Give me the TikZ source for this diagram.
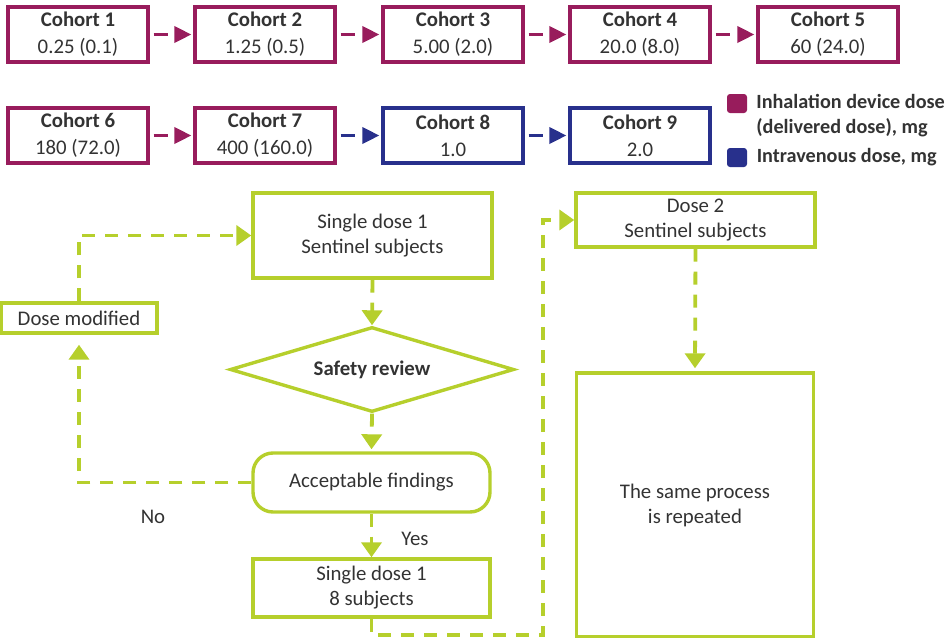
\documentclass[tikz,border=0pt]{standalone}
\usepackage{fontspec}
\setmainfont{Carlito}
\usepackage{xcolor}
\usepackage{tikz}
\usetikzlibrary{shapes.geometric,arrows.meta,positioning}

\definecolor{inhal}{RGB}{152,28,92}
\definecolor{ivblue}{RGB}{40,48,140}
\definecolor{flowgreen}{RGB}{182,207,44}
\definecolor{txtgray}{RGB}{51,51,51}

\begin{document}
\begin{tikzpicture}[x=0.5pt, y=-0.5pt,
    cohortbox/.style={rectangle, draw=inhal, line width=1.6pt, fill=white, minimum width=70pt, minimum height=27.5pt, align=center, text=txtgray, inner sep=0pt, font=\fontsize{10.4}{13.5}\selectfont},
    ivbox/.style={cohortbox, draw=ivblue},
    carrow/.style={-{Triangle[length=8.5pt, width=8pt]}, line width=1.8pt, dash pattern=on 7pt off 5pt, shorten <=2pt, shorten >=1pt},
    flowbox/.style={rectangle, draw=flowgreen, line width=1.7pt, fill=white, align=center, text=txtgray, inner sep=0pt, font=\fontsize{10.4}{12.5}\selectfont},
    reviewdia/.style={diamond, draw=flowgreen, line width=1.7pt, fill=white, aspect=3.3, minimum width=142pt, minimum height=42.5pt, inner sep=0pt, text=txtgray, font=\fontsize{10.4}{12.5}\selectfont\bfseries},
    farrow/.style={-{Triangle[length=7.5pt, width=10pt]}, flowgreen, line width=1.9pt, dash pattern=on 6.5pt off 5pt},
    legendsq/.style={rectangle, rounded corners=1.5pt, minimum width=10pt, minimum height=9.5pt, inner sep=0pt},
    lbl/.style={text=txtgray, inner sep=0pt, font=\fontsize{10.4}{12.5}\selectfont}
  ]
    \useasboundingbox (0,0) rectangle (950,638);

    \node[cohortbox] (c1) at (78,34.5) {\textbf{Cohort 1}\\0.25 (0.1)};
    \node[cohortbox] (c2) at (265,34.5) {\textbf{Cohort 2}\\1.25 (0.5)};
    \node[cohortbox] (c3) at (453,34.5) {\textbf{Cohort 3}\\5.00 (2.0)};
    \node[cohortbox] (c4) at (640,34.5) {\textbf{Cohort 4}\\20.0 (8.0)};
    \node[cohortbox] (c5) at (828,34.5) {\textbf{Cohort 5}\\60 (24.0)};

    \node[cohortbox] (c6) at (78,135.5) {\textbf{Cohort 6}\\180 (72.0)};
    \node[cohortbox] (c7) at (265,135.5) {\textbf{Cohort 7}\\400 (160.0)};
    \node[ivbox] (c8) at (453,135.5) {\textbf{Cohort 8}\\1.0};
    \node[ivbox] (c9) at (640,135.5) {\textbf{Cohort 9}\\2.0};

    \draw[carrow, inhal] (c1.east) -- (c2.west);
    \draw[carrow, inhal] (c2.east) -- (c3.west);
    \draw[carrow, inhal] (c3.east) -- (c4.west);
    \draw[carrow, inhal] (c4.east) -- (c5.west);
    \draw[carrow, inhal] (c6.east) -- (c7.west);
    \draw[carrow, ivblue] (c7.east) -- (c8.west);
    \draw[carrow, ivblue] (c8.east) -- (c9.west);

    \node[legendsq, fill=inhal] (lgi) at (737,103.5) {};
    \node[legendsq, fill=ivblue] (lgv) at (737,157.5) {};
    \node[lbl, font=\fontsize{10.1}{12.5}\selectfont\bfseries, align=left, anchor=west] (lgit) at (756,115.5) {Inhalation device dose\\(delivered dose), mg};
    \node[lbl, font=\fontsize{10.1}{12.5}\selectfont\bfseries, right=4.5pt of lgv] (lgvt) {Intravenous dose, mg};

    \node[flowbox, minimum width=119.5pt, minimum height=42.5pt] (sd1) at (372.5,235.5) {Single dose 1\\Sentinel subjects};
    \node[reviewdia] (dia) at (372,369.5) {Safety review};
    \node[flowbox, rounded corners=10pt, minimum width=118.5pt, minimum height=29.5pt] (acc) at (371.5,482.5) {Acceptable findings};
    \node[flowbox, minimum width=118.5pt, minimum height=29pt] (sd8) at (371.5,588) {Single dose 1\\8 subjects};
    \node[flowbox, minimum width=78pt, minimum height=15pt] (dm) at (79,318) {Dose modified};
    \node[flowbox, minimum width=119.5pt, minimum height=27pt] (d2) at (695.5,220) {Dose 2\\Sentinel subjects};
    \node[flowbox, minimum width=118.5pt, minimum height=132pt] (rep) at (695,505) {The same process\\is repeated};

    \node[lbl] (no) at (153,517) {No};
    \node[lbl] (yes) at (415,539) {Yes};
    \coordinate (loopc) at (543,635);

    \draw[farrow] (sd1.south) -- (dia.north);
    \draw[farrow, shorten >=1pt] (dia.south) -- (acc.north);
    \draw[farrow] (acc.south) -- (sd8.north);
    \draw[farrow, shorten >=5pt] (acc.west) -| (dm.south);
    \draw[farrow] (dm.north) |- (sd1.west);
    \draw[farrow] (sd8.south) |- (loopc) |- (d2.west);
    \draw[farrow, shorten >=1.5pt] (d2.south) -- (rep.north);
\end{tikzpicture}
\end{document}
